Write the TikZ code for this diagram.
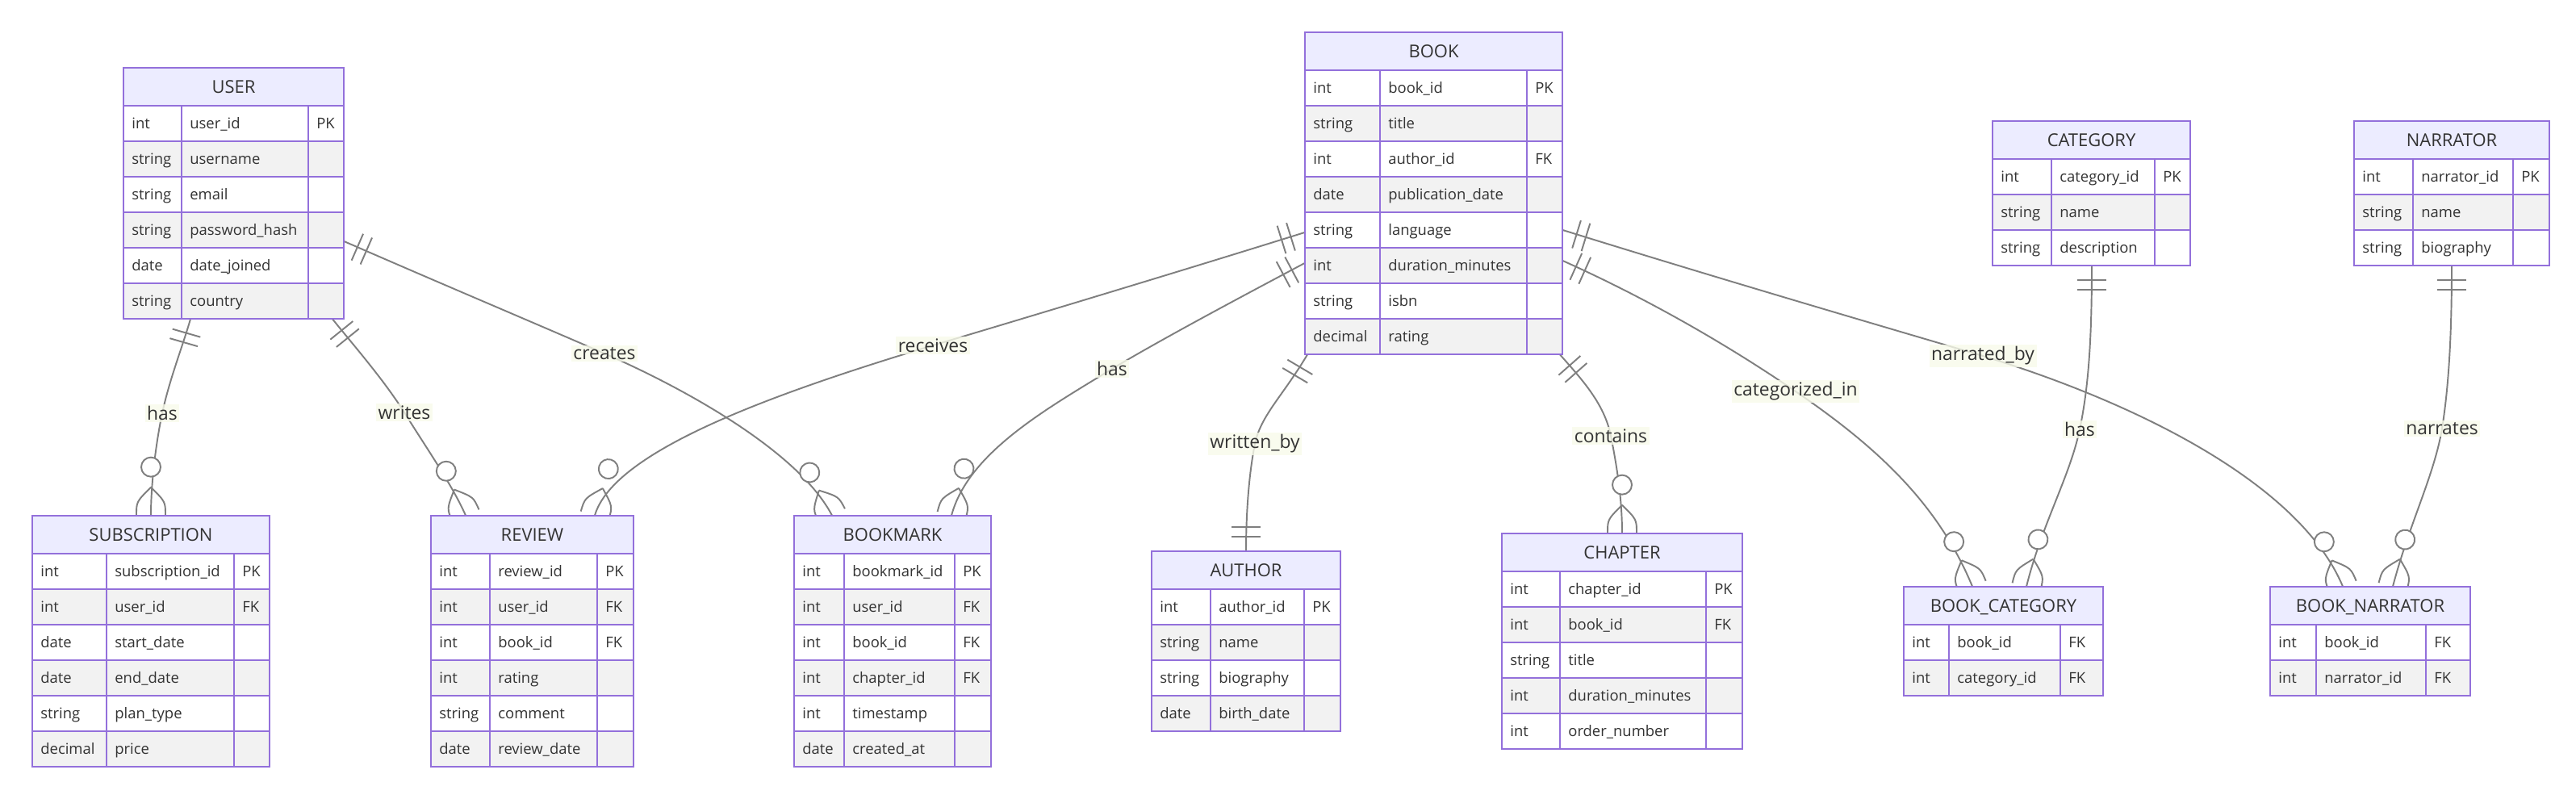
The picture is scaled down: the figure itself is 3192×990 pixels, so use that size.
\documentclass[tikz,border=0pt]{standalone}
\usepackage{fontspec}
\setmainfont{Open Sans}
\usetikzlibrary{fit,backgrounds,decorations.markings}

\definecolor{erpurple}{HTML}{9370DB}
\definecolor{erhead}{HTML}{ECECFF}
\definecolor{erodd}{HTML}{FFFFFF}
\definecolor{ereven}{HTML}{F2F2F2}
\definecolor{ertext}{HTML}{333333}
\definecolor{erline}{HTML}{7F7F7F}
\definecolor{labelbg}{HTML}{F7FAEA}

% #1 name, #2/#3 top left, #4/#5/#6 column widths, #7 title, #8 rows
\newcommand{\erentity}[8]{
	\pgfmathsetmacro{\ew}{#4+#5+#6}
	\draw[cell, fill=erhead] (#2,#3) rectangle ++(\ew,47);
	\node[title text] at (#2+\ew/2,#3+31.3) {#7};
	\foreach \etype/\ename/\ekey [count=\ei] in {#8} {
		\pgfmathsetmacro{\ey}{#3+3+\ei*44}
		\ifodd\ei\def\efill{erodd}\else\def\efill{ereven}\fi
		\draw[cell, fill=\efill] (#2,\ey) rectangle ++(#4,44) rectangle ++(#5,-44) rectangle ++(#6,44);
		\node[attr text] at (#2+10,\ey+28.6) {\etype};
		\node[attr text] at (#2+#4+10,\ey+28.6) {\ename};
		\node[attr text] at (#2+#4+#5+10,\ey+28.6) {\ekey};
		\xdef\erows{\ei}
	}
	\node[fit={(#2,#3) (#2+\ew,#3+47+\erows*44)}, inner sep=0pt] (#1) {};
}

\tikzset{
	cell/.style={draw=erpurple, line width=1.2pt},
	title text/.style={text=ertext, anchor=base, inner sep=0pt, font=\fontsize{12.5}{15}\selectfont},
	attr text/.style={text=ertext, anchor=base west, inner sep=0pt, font=\fontsize{10.5}{12}\selectfont},
	relline/.style={draw=erline, line width=1.1pt},
	rel label/.style={text=ertext, fill=labelbg, fill opacity=0.8, text opacity=1, inner sep=1.5pt, font=\fontsize{13}{15}\selectfont},
	one start/.style={postaction={decorate, decoration={markings, mark=at position 0 with {
		\draw[relline] (0.36cm,-0.36cm) -- (0.36cm,0.36cm) (0.6cm,-0.36cm) -- (0.6cm,0.36cm);}}}},
	one end/.style={postaction={decorate, decoration={markings, mark=at position 1 with {
		\draw[relline] (-0.36cm,-0.36cm) -- (-0.36cm,0.36cm) (-0.6cm,-0.36cm) -- (-0.6cm,0.36cm);}}}},
	many end/.style={postaction={decorate, decoration={markings, mark=at position 1 with {
		\draw[relline] (-0.7cm,0) .. controls (-0.34cm,0.36cm) .. (0,0.36cm)
			(-0.7cm,0) .. controls (-0.34cm,-0.36cm) .. (0,-0.36cm);
		\draw[relline, fill=white] (-1.2cm,0) circle (0.24cm);}}}}
}

\begin{document}
\begin{tikzpicture}[x=0.02cm, y=-0.02cm]
	\useasboundingbox (0,0) rectangle (3192,990);
	
	\erentity{user}{153}{84}{72}{157}{44}{USER}{int/user\_id/PK, string/username/{}, string/email/{}, string/password\_hash/{}, date/date\_joined/{}, string/country/{}}
	\erentity{subscription}{40}{639}{92}{158}{44}{SUBSCRIPTION}{int/subscription\_id/PK, int/user\_id/FK, date/start\_date/{}, date/end\_date/{}, string/plan\_type/{}, decimal/price/{}}
	\erentity{review}{534}{639}{73}{133}{45}{REVIEW}{int/review\_id/PK, int/user\_id/FK, int/book\_id/FK, int/rating/{}, string/comment/{}, date/review\_date/{}}
	\erentity{bookmark}{984}{639}{62}{137}{45}{BOOKMARK}{int/bookmark\_id/PK, int/user\_id/FK, int/book\_id/FK, int/chapter\_id/FK, int/timestamp/{}, date/created\_at/{}}
	\erentity{book}{1617}{40}{93}{182}{44}{BOOK}{int/book\_id/PK, string/title/{}, int/author\_id/FK, date/publication\_date/{}, string/language/{}, int/duration\_minutes/{}, string/isbn/{}, decimal/rating/{}}
	\erentity{author}{1427}{683}{73}{116}{45}{AUTHOR}{int/author\_id/PK, string/name/{}, string/biography/{}, date/birth\_date/{}}
	\erentity{chapter}{1861}{661}{72}{181}{45}{CHAPTER}{int/chapter\_id/PK, int/book\_id/FK, string/title/{}, int/duration\_minutes/{}, int/order\_number/{}}
	\erentity{category}{2469}{150}{73}{128}{44}{CATEGORY}{int/category\_id/PK, string/name/{}, string/description/{}}
	\erentity{narrator}{2917}{150}{73}{124}{45}{NARRATOR}{int/narrator\_id/PK, string/name/{}, string/biography/{}}
	\erentity{bookcat}{2359}{727}{56}{138}{53}{BOOK\_CATEGORY}{int/book\_id/FK, int/category\_id/FK}
	\erentity{booknar}{2813}{727}{57}{136}{55}{BOOK\_NARRATOR}{int/book\_id/FK, int/narrator\_id/FK}
	
	\begin{scope}[on background layer]
		\draw[relline, one start, many end] (user.south -| 236,0) .. controls (226,430) and (210,470) .. (201,512) node[rel label] (l-hassub) {has} .. controls (193,550) and (187,600) .. (subscription.north -| 187,0);
		\draw[relline, one start, many end] (user.south -| 412,0) .. controls (440,430) and (475,470) .. (501,511) node[rel label] (l-writes) {writes} .. controls (525,550) and (560,600) .. (review.north -| 577,0);
		\draw[relline, one start, many end] (user.east |- 0,299) .. controls (550,353) and (650,395) .. (749,438) node[rel label] (l-creates) {creates} .. controls (850,482) and (990,560) .. (bookmark.north -| 1031,0);
		\draw[relline, one start, many end] (book.west |- 0,288) .. controls (1450,340) and (1250,400) .. (1156,428) node[rel label] (l-receives) {receives} .. controls (950,490) and (760,560) .. (review.north -| 737,0);
		\draw[relline, one start, many end] (book.west |- 0,326) .. controls (1530,372) and (1440,420) .. (1378,457) node[rel label] (l-hasmark) {has} .. controls (1300,505) and (1200,560) .. (bookmark.north -| 1179,0);
		\draw[relline, one start, one end] (book.south -| 1620,0) .. controls (1590,490) and (1562,515) .. (1555,550) node[rel label] (l-written) {written\_by} .. controls (1547,590) and (1544,640) .. (author.north -| 1544,0);
		\draw[relline, one start, many end] (book.south -| 1933,0) .. controls (1960,470) and (1988,500) .. (1996,540) node[rel label] (l-contains) {contains} .. controls (2004,580) and (2010,620) .. (chapter.north -| 2010,0);
		\draw[relline, one start, many end] (book.east |- 0,323) .. controls (2030,365) and (2130,420) .. (2225,485) node[rel label] (l-categorized) {categorized\_in} .. controls (2320,550) and (2400,620) .. (bookcat.north -| 2444,0);
		\draw[relline, one start, many end] (book.east |- 0,285) .. controls (2110,339) and (2290,392) .. (2457,441) node[rel label] (l-narrated) {narrated\_by} .. controls (2650,500) and (2850,600) .. (booknar.north -| 2903,0);
		\draw[relline, one start, many end] (category.south -| 2592,0) .. controls (2592,420) and (2588,480) .. (2577,532) node[rel label] (l-hascat) {has} .. controls (2565,590) and (2530,650) .. (bookcat.north -| 2511,0);
		\draw[relline, one start, many end] (narrator.south -| 3038,0) .. controls (3038,420) and (3034,480) .. (3026,531) node[rel label] (l-narrates) {narrates} .. controls (3016,590) and (2985,650) .. (booknar.north -| 2965,0);
	\end{scope}
\end{tikzpicture}
\end{document}
